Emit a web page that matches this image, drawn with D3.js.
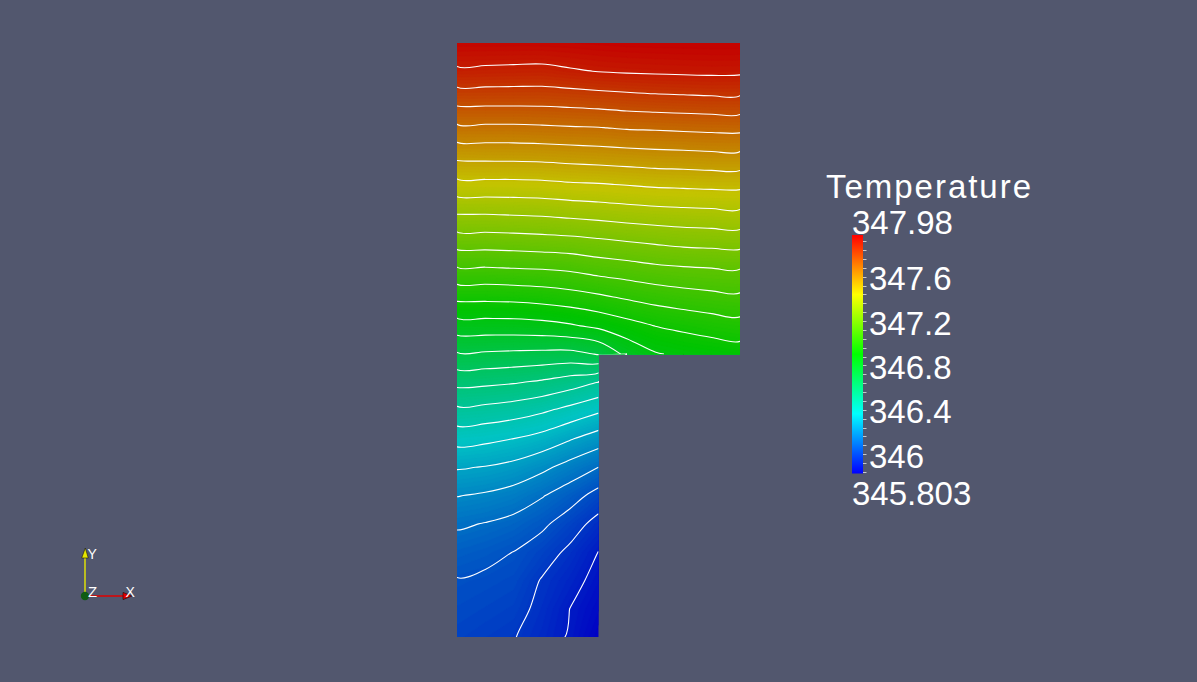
<!DOCTYPE html>
<html>
<head>
<meta charset="utf-8">
<script src="https://cdn.jsdelivr.net/npm/d3@7"></script>
<style>
  html, body { margin: 0; padding: 0; background: #52576e; overflow: hidden; }
  svg { display: block; }
  text { font-family: "Liberation Sans", Arial, sans-serif; fill: #fff; }
</style>
</head>
<body>
<svg id="chart" width="1197" height="682"></svg>
<script>
// node temperatures of the wide upper block, top edge first (12 rows x 11 nodes)
const upperRows = [
  [347.963, 347.963, 347.963, 347.963, 347.966, 347.971, 347.975, 347.977, 347.978, 347.979, 347.980],
  [347.893, 347.890, 347.887, 347.885, 347.897, 347.907, 347.912, 347.915, 347.918, 347.920, 347.918],
  [347.781, 347.781, 347.781, 347.781, 347.786, 347.793, 347.801, 347.808, 347.812, 347.816, 347.816],
  [347.665, 347.665, 347.665, 347.669, 347.674, 347.677, 347.686, 347.689, 347.694, 347.698, 347.700],
  [347.547, 347.550, 347.551, 347.554, 347.560, 347.566, 347.572, 347.578, 347.581, 347.586, 347.586],
  [347.432, 347.434, 347.434, 347.437, 347.446, 347.450, 347.458, 347.466, 347.470, 347.474, 347.474],
  [347.311, 347.311, 347.315, 347.319, 347.328, 347.336, 347.346, 347.354, 347.359, 347.363, 347.367],
  [347.191, 347.193, 347.196, 347.202, 347.208, 347.219, 347.231, 347.242, 347.253, 347.257, 347.261],
  [347.070, 347.070, 347.075, 347.079, 347.088, 347.107, 347.120, 347.135, 347.144, 347.150, 347.154],
  [346.946, 346.946, 346.949, 346.958, 346.972, 346.990, 347.012, 347.031, 347.046, 347.057, 347.064],
  [346.820, 346.821, 346.822, 346.829, 346.845, 346.870, 346.901, 346.930, 346.947, 346.964, 346.976],
  [346.696, 346.693, 346.688, 346.684, 346.681, 346.708, 346.798, 346.848, 346.867, 346.879, 346.890]
];

// node temperatures of the narrow stem below it (10 rows x 6 nodes)
const stemRows = [
  [346.574, 346.569, 346.559, 346.542, 346.514, 346.476],
  [346.461, 346.453, 346.438, 346.414, 346.378, 346.339],
  [346.355, 346.345, 346.327, 346.300, 346.258, 346.216],
  [346.260, 346.250, 346.231, 346.196, 346.150, 346.103],
  [346.181, 346.169, 346.148, 346.109, 346.062, 346.000],
  [346.114, 346.100, 346.080, 346.044, 345.988, 345.927],
  [346.065, 346.049, 346.027, 345.988, 345.937, 345.877],
  [346.024, 346.015, 346.003, 345.948, 345.906, 345.852],
  [346.006, 345.994, 345.980, 345.933, 345.877, 345.828],
  [345.987, 345.972, 345.957, 345.918, 345.869, 345.803]
];

const tempMin = 345.803;
const tempMax = 347.98;
const contourCount = 30;
const labelTicks = [346, 346.4, 346.8, 347.2, 347.6];
const minorStep = 0.08;

const svg = d3.select("#chart");

const nx = upperRows[0].length;
const ny = upperRows.length + stemRows.length;
const gap = nx - stemRows[0].length;

// flat grid, the cut-out corner is left empty
const values = upperRows.flat()
  .concat(stemRows.flatMap(r => r.concat(new Array(gap).fill(NaN))));

// grid units -> pixels (node i sits at i + 0.5)
const xg = d3.scaleLinear().domain([0.5, nx - 0.5]).range([457, 740]);
const yg = d3.scaleLinear().domain([0.5, ny - 0.5]).range([43, 637]);

const proj = d3.geoTransform({
  point(x, y) { this.stream.point(xg(x), yg(y)); }
});
const path = d3.geoPath(proj);

const hue = d3.scaleLinear().domain([tempMin, tempMax]).range([240, 0]).clamp(true);
const surfaceColor = t => d3.hsl(hue(t), 1, 0.385).toString();
const barColor = t => d3.hsl(hue(t), 1, 0.5).toString();

const sc = stemRows[0].length - 1;   // last stem column
const ur = upperRows.length - 1;     // last upper row

// which border(s) of the grid / cut-out a ring point lies on
const edgesOf = ([x, y]) => {
  const e = [];
  if (x === 0) e.push("l");
  if (x === nx) e.push("r");
  if (y === 0) e.push("t");
  if (y === ny) e.push("b");
  if (x === sc + 0.5 && y >= ur + 0.5) e.push("v");
  if (y === ur + 0.5 && x >= sc + 0.5) e.push("h");
  return e;
};
const alongEdge = (p, q) => {
  const a = edgesOf(p), b = edgesOf(q);
  return a.some(k => b.includes(k));
};

// cut a contour ring into the open pieces that are real iso-lines
function ringRuns(ring) {
  const pts = ring.slice(0, -1);
  const n = pts.length;
  const drop = pts.map((p, i) => alongEdge(p, pts[(i + 1) % n]));
  const start = drop.indexOf(true);
  if (start < 0) return [{ closed: true, pts }];
  const runs = [];
  let cur = null;
  for (let s = 1; s <= n; s++) {
    const i = (start + s) % n;
    if (drop[i]) {
      if (cur) { runs.push({ closed: false, pts: cur }); cur = null; }
    } else {
      if (!cur) cur = [pts[i]];
      cur.push(pts[(i + 1) % n]);
    }
  }
  if (cur) runs.push({ closed: false, pts: cur });
  return runs;
}

const openLine = d3.line().x(p => xg(p[0])).y(p => yg(p[1]))
  .curve(d3.curveCatmullRom.alpha(0.5));
const closedLine = d3.line().x(p => xg(p[0])).y(p => yg(p[1]))
  .curve(d3.curveCatmullRomClosed.alpha(0.5));

const isoPath = d => d.coordinates
  .flatMap(poly => poly.flatMap(ringRuns))
  .filter(r => r.pts.length > 1)
  .map(r => (r.closed ? closedLine : openLine)(r.pts))
  .join("");

// outline of the part
const node = (i, j) => [xg(i + 0.5), yg(j + 0.5)];
const outline = [node(0, 0), node(nx - 1, 0), node(nx - 1, ur), node(sc, ur), node(sc, ny - 1), node(0, ny - 1)];

const defs = svg.append("defs");
defs.append("clipPath").attr("id", "partClip")
  .append("path").attr("d", "M" + outline.join("L") + "Z");

// smooth colour fill from many thin bands
const bandCount = 180;
const bandStep = (tempMax - tempMin) / bandCount;
const fillLevels = d3.range(bandCount).map(i => tempMin - 0.001 + i * bandStep);
const bands = d3.contours().size([nx, ny]).thresholds(fillLevels)(values);

svg.append("g")
  .attr("clip-path", "url(#partClip)")
  .selectAll("path")
  .data(bands)
  .join("path")
  .attr("d", path)
  .attr("fill", d => surfaceColor(d.value + bandStep / 2))
  .attr("stroke", d => surfaceColor(d.value + bandStep / 2))
  .attr("stroke-width", 0.6);

// iso-lines
const lineLevels = d3.range(1, contourCount - 1)
  .map(k => tempMin + (tempMax - tempMin) * k / (contourCount - 1));
const isolines = d3.contours().size([nx, ny]).thresholds(lineLevels)(values);

svg.append("g")
  .attr("clip-path", "url(#partClip)")
  .selectAll("path")
  .data(isolines)
  .join("path")
  .attr("d", isoPath)
  .attr("fill", "none")
  .attr("stroke", "#ffffff")
  .attr("stroke-width", 1.1);

// ---- scalar bar ----
const barTop = 235, barBottom = 473.5, barX = 852, barW = 11;
const tickY = d3.scaleLinear().domain([tempMin, tempMax]).range([476, 234.5]);

const grad = defs.append("linearGradient").attr("id", "barGrad")
  .attr("x1", 0).attr("y1", 1).attr("x2", 0).attr("y2", 0);
grad.selectAll("stop")
  .data(d3.range(0, 41))
  .join("stop")
  .attr("offset", i => i / 40)
  .attr("stop-color", i => barColor(tempMin + (tempMax - tempMin) * i / 40));

svg.append("rect")
  .attr("x", barX).attr("y", barTop)
  .attr("width", barW).attr("height", barBottom - barTop)
  .attr("fill", "url(#barGrad)");

const minorTicks = d3.range(-2, 25).map(i => 346 + i * minorStep);
svg.append("g")
  .selectAll("line")
  .data(minorTicks)
  .join("line")
  .attr("x1", barX + barW).attr("x2", barX + barW + 3.5)
  .attr("y1", d => Math.round(tickY(d)) + 0.5)
  .attr("y2", d => Math.round(tickY(d)) + 0.5)
  .attr("stroke", "#c8c8cc")
  .attr("stroke-width", 1);

svg.append("g")
  .selectAll("text")
  .data(labelTicks)
  .join("text")
  .attr("x", 869)
  .attr("y", d => tickY(d) + 13.5)
  .attr("font-size", 33)
  .text(d => d3.format("")(d));

svg.append("text")
  .attr("x", 826).attr("y", 198)
  .attr("font-size", 33)
  .attr("textLength", 205)
  .attr("lengthAdjust", "spacing")
  .text("Temperature");

svg.append("text")
  .attr("x", 852).attr("y", 234)
  .attr("font-size", 33)
  .text(d3.format(".2f")(tempMax));

svg.append("text")
  .attr("x", 852).attr("y", 505)
  .attr("font-size", 33)
  .text(d3.format(".3f")(tempMin));

// ---- orientation triad ----
const triad = svg.append("g");
const ox = 85, oy = 596;
triad.append("line")
  .attr("x1", ox).attr("y1", oy).attr("x2", ox).attr("y2", oy - 44)
  .attr("stroke", "#e8e800").attr("stroke-width", 1.4);
triad.append("path")
  .attr("d", `M${ox - 3.3},${oy - 38}L${ox + 3.3},${oy - 38}L${ox + 0.3},${oy - 48}Z`)
  .attr("fill", "#e6e600").attr("stroke", "#1a1a10").attr("stroke-width", 0.6);
triad.append("line")
  .attr("x1", ox).attr("y1", oy).attr("x2", ox + 39).attr("y2", oy)
  .attr("stroke", "#e00000").attr("stroke-width", 1.4);
triad.append("path")
  .attr("d", `M${ox + 38},${oy - 3.6}L${ox + 38},${oy + 3.6}L${ox + 47},${oy}Z`)
  .attr("fill", "#e00000").attr("stroke", "#200000").attr("stroke-width", 0.6);
triad.append("circle")
  .attr("cx", ox).attr("cy", oy).attr("r", 4.2)
  .attr("fill", "#0f5c14");

triad.append("text").attr("x", 87.5).attr("y", 558.5).attr("font-size", 14).text("Y");
triad.append("text").attr("x", 88).attr("y", 596.5).attr("font-size", 15).text("Z");
triad.append("text").attr("x", 125.5).attr("y", 597).attr("font-size", 14).text("X");
</script>
</body>
</html>
